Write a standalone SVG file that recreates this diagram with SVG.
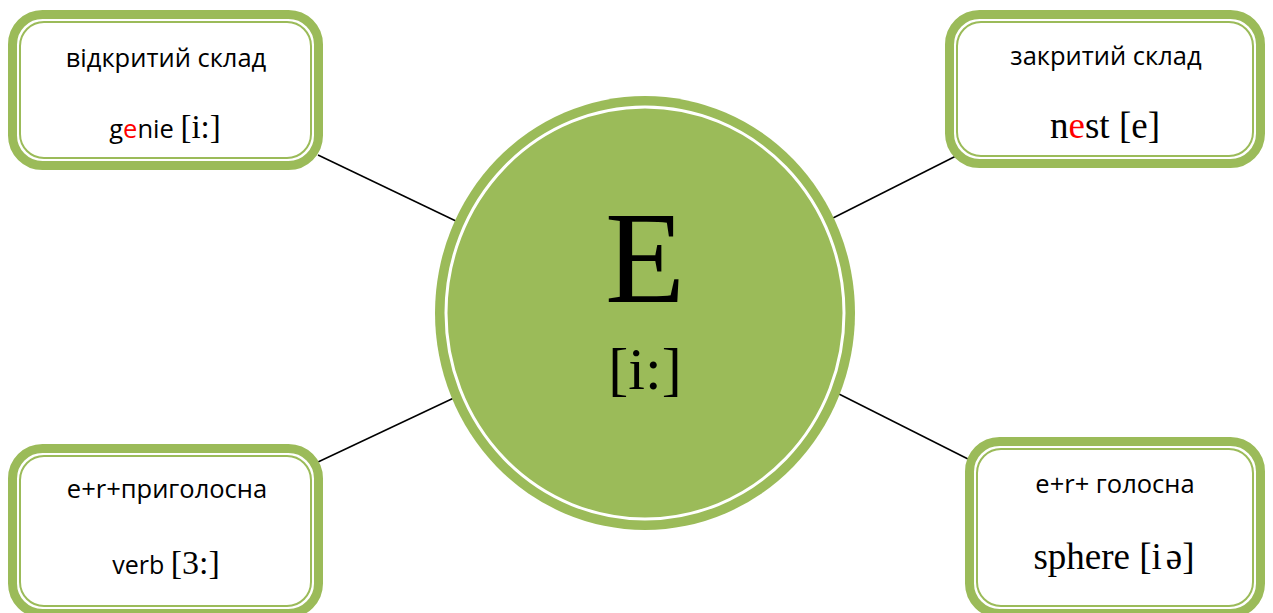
<svg xmlns="http://www.w3.org/2000/svg" width="1273" height="613" viewBox="0 0 1273 613">
<style>
.outer{fill:#ffffff;stroke:#9BBB59;stroke-width:9}
.inner{fill:none;stroke:#9BBB59;stroke-width:2}
.conn{stroke:#000;stroke-width:1.5;fill:none}
.sans{font-family:"Open Sans","Liberation Sans",sans-serif;fill:#000}
.serif{font-family:"Liberation Serif","Times New Roman",serif;fill:#000}
.red{fill:#ff0000}
</style>
<rect width="1273" height="613" fill="#ffffff"/>
<g id="connectors">
<line class="conn" x1="318" y1="155" x2="458" y2="222"/>
<line class="conn" x1="833" y1="218" x2="956" y2="156"/>
<line class="conn" x1="318" y1="462" x2="458" y2="396"/>
<line class="conn" x1="833" y1="391" x2="968" y2="459"/>
</g>
<g id="center">
<ellipse cx="645" cy="313" rx="210" ry="217" fill="#9BBB59"/>
<ellipse cx="645" cy="313" rx="199" ry="206" fill="none" stroke="#ffffff" stroke-width="3"/>
<text class="serif" x="645" y="302" font-size="131" text-anchor="middle">E</text>
<text class="serif" x="645" y="389" font-size="60" text-anchor="middle">[i:]</text>
</g>
<g id="open-syllable">
<rect class="outer" x="12.5" y="14.5" width="306" height="151" rx="30"/>
<rect class="inner" x="20" y="22" width="291" height="136" rx="24"/>
<text class="sans" x="166" y="67" font-size="25.5" text-anchor="middle">відкритий склад</text>
<text x="165" y="138" text-anchor="middle"><tspan class="sans" font-size="25.5">g</tspan><tspan class="sans red" font-size="25.5">e</tspan><tspan class="sans" font-size="25.5">nie </tspan><tspan class="serif" font-size="33">[i:]</tspan></text>
</g>
<g id="closed-syllable">
<rect class="outer" x="949.5" y="14.5" width="311" height="149" rx="30"/>
<rect class="inner" x="957" y="22" width="296" height="134" rx="24"/>
<text class="sans" x="1106" y="65" font-size="25.5" text-anchor="middle">закритий склад</text>
<text class="serif" x="1105" y="138" font-size="37" text-anchor="middle">n<tspan class="red">e</tspan>st [e]</text>
</g>
<g id="er-consonant">
<rect class="outer" x="12.5" y="448.5" width="306" height="165" rx="30"/>
<rect class="inner" x="20" y="456" width="291" height="150" rx="24"/>
<text class="sans" x="167" y="498" font-size="25.5" text-anchor="middle">e+r+приголосна</text>
<text x="166" y="574" text-anchor="middle"><tspan class="sans" font-size="25">verb </tspan><tspan class="serif" font-size="34">[3:]</tspan></text>
</g>
<g id="er-vowel">
<rect class="outer" x="969.5" y="441.5" width="291" height="172" rx="30"/>
<rect class="inner" x="977" y="449" width="276" height="157" rx="24"/>
<text class="sans" x="1115" y="493" font-size="25.5" text-anchor="middle">e+r+ голосна</text>
<text class="serif" x="1114" y="569" font-size="37" text-anchor="middle">sphere [i<tspan dx="4">ə</tspan>]</text>
</g>
</svg>
